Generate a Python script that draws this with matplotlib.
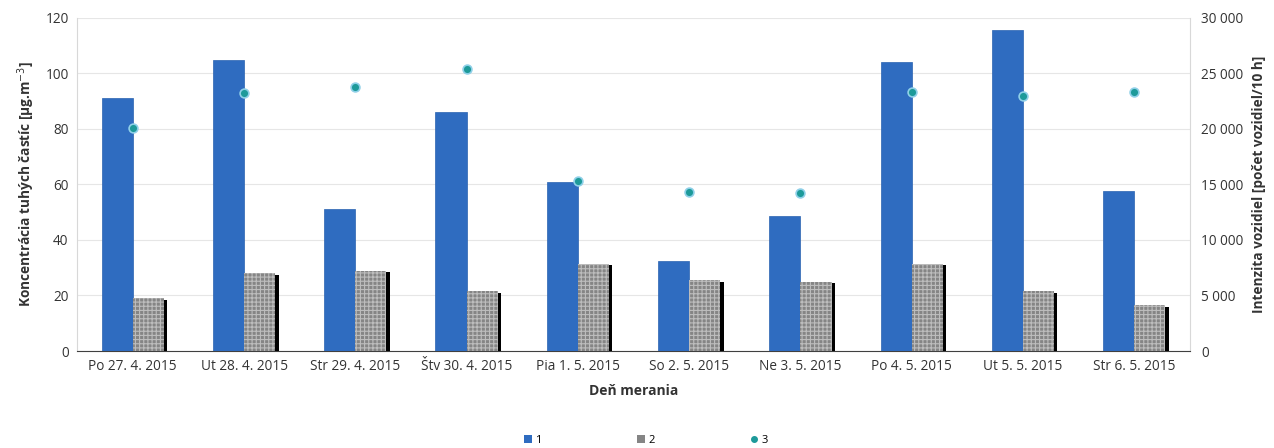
import numpy as np
import matplotlib.pyplot as plt
from matplotlib.patches import Patch
from matplotlib.lines import Line2D

# measurement days
days = ['Po 27. 4. 2015', 'Ut 28. 4. 2015', 'Str 29. 4. 2015', 'Štv 30. 4. 2015',
        'Pia 1. 5. 2015', 'So 2. 5. 2015', 'Ne 3. 5. 2015', 'Po 4. 5. 2015',
        'Ut 5. 5. 2015', 'Str 6. 5. 2015']

# particulate concentration [ug/m3]
conc1 = [91, 105, 51, 86, 61, 32.5, 48.5, 104, 115.5, 57.5]
conc2 = [19, 28, 29, 21.5, 31.5, 25.5, 25, 31.5, 21.5, 16.5]
# traffic intensity [vehicles / 10 h]
traffic = [20100, 23200, 23800, 25400, 15300, 14300, 14200, 23300, 23000, 23300]

plt.rcParams['font.family'] = ['Open Sans', 'DejaVu Sans']
plt.rcParams['hatch.linewidth'] = 0.8

fig = plt.figure(figsize=(12.74, 4.48), dpi=100)
ax = fig.add_axes([0.0605, 0.2165, 0.8735, 0.7435])
ax2 = ax.twinx()

x = np.arange(len(days))
w = 0.28

# blue bars
ax.bar(x - w / 2, conc1, w, color='#2f6cc0', edgecolor='#2a62b0', linewidth=0.5, zorder=3)
# gray bars with a dark shadow
ax.bar(x + w / 2 + 0.03, conc2, w, bottom=-0.6, color='black', zorder=3)
ax.bar(x + w / 2, conc2, w, color='#858585', edgecolor='#bdbdbd', hatch='++++',
       linewidth=0, zorder=4)

ax.set_xlim(-0.5, len(days) - 0.5)
ax.set_ylim(0, 120)
ax.set_yticks(np.arange(0, 121, 20))
ax.grid(axis='y', color='#e6e6e6', linewidth=0.8, zorder=0)
ax.set_xticks(x)
ax.set_xticklabels(days)
ax.tick_params(length=0, labelsize=9.8, colors='#333333', pad=6)
ax.spines['top'].set_visible(False)
ax.spines['left'].set_color('#d8d8d8')
ax.spines['right'].set_color('#d8d8d8')
ax.spines['bottom'].set_color('#404040')
ax.set_xlabel('Deň merania', fontsize=10, fontweight='bold', color='#333333', labelpad=7)
ax.set_ylabel('Koncentrácia tuhých častíc [µg.m$^{-3}$]', fontsize=9.8,
              fontweight='bold', color='#333333', labelpad=6)

# traffic points on the secondary axis
ax2.scatter(x, traffic, s=40, color='#1d9a9a', edgecolors='#8fd0e8', linewidths=1.2, zorder=5)
ax2.set_ylim(0, 30000)
ax2.set_yticks(np.arange(0, 30001, 5000))
ax2.set_yticklabels(['0', '5 000', '10 000', '15 000', '20 000', '25 000', '30 000'])
ax2.tick_params(length=0, labelsize=9.8, colors='#333333', pad=8)
for s in ['top', 'left', 'bottom', 'right']:
    ax2.spines[s].set_visible(False)
ax2.set_ylabel('Intenzita vozidiel [počet vozidiel/10 h]', fontsize=9.8,
               fontweight='bold', color='#333333', labelpad=6)

# legend along the bottom
handles = [Patch(facecolor='#2f6cc0', label='1'),
           Patch(facecolor='#858585', label='2'),
           Line2D([], [], marker='o', linestyle='', color='#1d9a9a', markersize=4, label='3')]
fig.legend(handles=handles, loc='center', bbox_to_anchor=(0.507, 0.017), ncol=3,
           frameon=False, fontsize=8, handlelength=0.7, handleheight=0.7,
           handletextpad=0.3, columnspacing=8.6)

fig.savefig('out.png', dpi=100)
